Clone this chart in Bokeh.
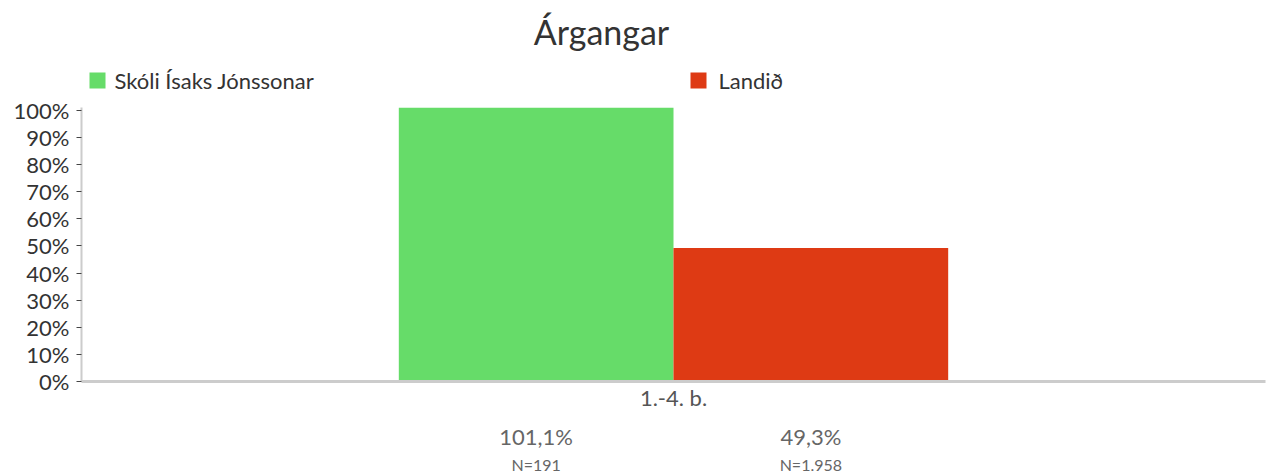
from bokeh.plotting import figure
from bokeh.layouts import column
from bokeh.models import (ColumnDataSource, FactorRange, Range1d, NumeralTickFormatter,
                          FixedTicker, CategoricalAxis)
from bokeh.core.properties import value
from bokeh.transform import dodge
from bokeh.embed import file_html
from bokeh.resources import INLINE

# ---- data ----
title_text = "Árgangar"
categories = ["1.-4. b."]
series = ["Skóli Ísaks Jónssonar", "Landið"]
school_values = [1.011]
country_values = [0.493]
value_labels = ["101,1%", "49,3%"]
n_labels = ["N=191", "N=1.958"]
colors = ["#66DC69", "#DE3A14"]
y_ticks = [0.0, 0.1, 0.2, 0.3, 0.4, 0.5, 0.6, 0.7, 0.8, 0.9, 1.0]

FONT = "Lato"
W = 1268
LEFT, RIGHT = 81, 3
TOP_H = 95
BAR_W = 0.232
OFFS = [-BAR_W / 2, BAR_W / 2]
# sub-ranges (padding applied on each side) whose factor centres line up with the bars
SUB_PAD = (1.0 / BAR_W - len(series)) / 2

# ---------- header: title + legend (frame aligned with the chart frame) ----------
head = figure(width=W, height=TOP_H, x_range=Range1d(LEFT, W - RIGHT), y_range=Range1d(0, TOP_H),
              output_backend="svg", toolbar_location=None, min_border=0,
              min_border_left=LEFT, min_border_right=RIGHT,
              x_axis_location=None, y_axis_location=None)
head.outline_line_color = None
head.grid.visible = False

head.text(x=[601], y=[TOP_H - 31], text=[title_text], text_font=value(FONT),
          text_font_size="34px", text_color="#333333", text_align="center",
          text_baseline="middle")
leg = ColumnDataSource(dict(sx=[97, 698], tx=[114, 718], y=[TOP_H - 80, TOP_H - 80],
                            name=series, color=colors))
head.scatter(x="sx", y="y", marker="square", size=16, fill_color="color",
             line_color=None, source=leg)
head.text(x="tx", y="y", text="name", source=leg, text_font=value(FONT),
          text_font_size="22px", text_color="#333333", text_align="left",
          text_baseline="middle")

# ---------- main chart ----------
p = figure(x_range=FactorRange(*categories), y_range=Range1d(0, max(school_values)),
           width=W, height=381, output_backend="svg", toolbar_location=None,
           min_border_left=LEFT, min_border_right=RIGHT, min_border_top=12, min_border_bottom=0)
p.outline_line_color = None
p.xgrid.grid_line_color = None
p.ygrid.grid_line_color = None

p.extra_x_ranges = {
    "vals": FactorRange(factors=value_labels, range_padding=SUB_PAD, range_padding_units="absolute"),
    "ns": FactorRange(factors=n_labels, range_padding=SUB_PAD, range_padding_units="absolute"),
}

src1 = ColumnDataSource(dict(cat=categories, value=school_values))
src2 = ColumnDataSource(dict(cat=categories, value=country_values))
p.vbar(x=dodge("cat", OFFS[0], range=p.x_range), top="value", width=BAR_W,
       source=src1, fill_color=colors[0], line_color=None)
p.vbar(x=dodge("cat", OFFS[1], range=p.x_range), top="value", width=BAR_W,
       source=src2, fill_color=colors[1], line_color=None)

p.yaxis.ticker = FixedTicker(ticks=y_ticks)
p.yaxis.formatter = NumeralTickFormatter(format="0%")
p.yaxis.axis_line_color = "#cccccc"
p.yaxis.axis_line_width = 2
p.yaxis.major_tick_line_color = "#444444"
p.yaxis.major_tick_out = 5
p.yaxis.major_tick_in = 0
p.yaxis.minor_tick_line_color = None
p.yaxis.major_label_text_font = FONT
p.yaxis.major_label_text_font_size = "22px"
p.yaxis.major_label_text_color = "#333333"
p.yaxis.major_label_standoff = 7

p.xaxis.axis_line_color = "#cccccc"
p.xaxis.axis_line_width = 3
p.xaxis.major_tick_line_color = None
p.xaxis.minor_tick_line_color = None
p.xaxis.major_label_text_font = FONT
p.xaxis.major_label_text_font_size = "22px"
p.xaxis.major_label_text_color = "#555555"
p.xaxis.major_label_standoff = -4

for rng, size, standoff in [("vals", "22px", 3), ("ns", "16px", -4)]:
    ax = CategoricalAxis(x_range_name=rng, axis_line_color=None, major_tick_line_color=None,
                         minor_tick_line_color=None, major_label_text_font=FONT,
                         major_label_text_font_size=size, major_label_text_color="#666666",
                         major_label_standoff=standoff)
    p.add_layout(ax, "below")

layout = column(head, p, spacing=0)
open("out.html", "w").write(file_html(layout, INLINE))
